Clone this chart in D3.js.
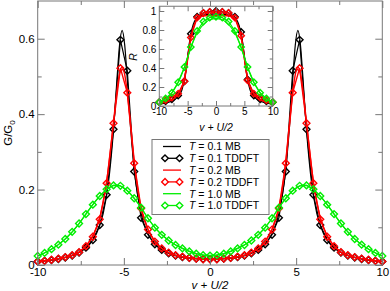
<!DOCTYPE html>
<html>
<head>
<meta charset="utf-8">
<script src="https://cdn.jsdelivr.net/npm/d3@7"></script>
<style>
body { margin: 0; background: #fff; }
text { font-family: "Liberation Sans", Arial, Helvetica, sans-serif; }
</style>
</head>
<body>
<div id="chart"></div>
<script>
// ---- main panel data (G/G0) ----
var tdX = [-10,-9.6,-9.2,-8.8,-8.4,-8,-7.6,-7.2,-6.8,-6.4,-6,-5.6,-5.2,-4.8,-4.4,-4,-3.6,-3.2,-2.8,-2.4,-2,-1.6,-1.2,-0.8,-0.4,
            0,0.4,0.8,1.2,1.6,2,2.4,2.8,3.2,3.6,4,4.4,4.8,5.2,5.6,6,6.4,6.8,7.2,7.6,8,8.4,8.8,9.2,9.6,10];
var tdT01 = [0.0095,0.011,0.013,0.016,0.020,0.025,0.033,0.046,0.066,0.106,0.186,0.360,0.597,0.515,0.248,0.125,0.080,0.055,0.040,0.031,0.025,0.021,0.019,0.017,0.016,
             0.016,0.016,0.017,0.019,0.021,0.025,0.031,0.040,0.055,0.080,0.125,0.248,0.515,0.597,0.360,0.186,0.106,0.066,0.046,0.033,0.025,0.020,0.016,0.013,0.011,0.0095];
var tdT02 = [0.009,0.011,0.014,0.017,0.021,0.026,0.034,0.050,0.075,0.121,0.217,0.376,0.522,0.457,0.270,0.150,0.094,0.062,0.044,0.033,0.026,0.022,0.019,0.017,0.015,
             0.015,0.015,0.017,0.019,0.022,0.026,0.033,0.044,0.062,0.094,0.150,0.270,0.457,0.522,0.376,0.217,0.121,0.075,0.050,0.034,0.026,0.021,0.017,0.014,0.011,0.009];
var tdT10 = [0.024,0.032,0.042,0.054,0.069,0.088,0.110,0.135,0.160,0.183,0.201,0.211,0.210,0.197,0.177,0.152,0.124,0.099,0.080,0.065,0.053,0.044,0.036,0.030,0.026,
             0.025,0.026,0.030,0.036,0.044,0.053,0.065,0.080,0.099,0.124,0.152,0.177,0.197,0.210,0.211,0.201,0.183,0.160,0.135,0.110,0.088,0.069,0.054,0.042,0.032,0.024];

var mbX = [-10,-9.4,-8.8,-8.2,-7.6,-7,-6.6,-6.2,-5.9,-5.6,-5.4,-5.25,-5.1,-4.95,-4.8,-4.6,-4.3,-4,-3.6,-3.2,-2.4,-1.6,-0.8,
           0,0.8,1.6,2.4,3.2,3.6,4,4.3,4.6,4.8,4.95,5.1,5.25,5.4,5.6,5.9,6.2,6.6,7,7.6,8.2,8.8,9.4,10];
var mbT01 = [0.0095,0.012,0.016,0.022,0.033,0.054,0.082,0.136,0.216,0.358,0.492,0.583,0.622,0.583,0.492,0.358,0.216,0.137,0.083,0.056,0.031,0.021,0.017,
             0.016,0.017,0.021,0.031,0.056,0.083,0.137,0.216,0.358,0.492,0.583,0.622,0.583,0.492,0.358,0.216,0.136,0.082,0.054,0.033,0.022,0.016,0.012,0.0095];
var mbT02 = [0.009,0.0125,0.017,0.023,0.034,0.062,0.098,0.165,0.255,0.378,0.462,0.508,0.525,0.505,0.457,0.370,0.235,0.150,0.094,0.062,0.033,0.022,0.017,
             0.015,0.017,0.022,0.033,0.062,0.094,0.150,0.235,0.370,0.457,0.505,0.525,0.508,0.462,0.378,0.255,0.165,0.098,0.062,0.034,0.023,0.017,0.0125,0.009];
var mbT10 = [0.024,0.037,0.054,0.078,0.110,0.148,0.172,0.192,0.204,0.211,0.212,0.210,0.207,0.203,0.197,0.188,0.171,0.152,0.124,0.099,0.065,0.044,0.030,
             0.025,0.030,0.044,0.065,0.099,0.124,0.152,0.171,0.188,0.197,0.203,0.207,0.210,0.212,0.211,0.204,0.192,0.172,0.148,0.110,0.078,0.054,0.037,0.024];

// ---- inset data (R) ----
var inTdX = [-10,-8.89,-7.78,-6.67,-5.56,-4.44,-3.33,-2.22,-1.11,0,1.11,2.22,3.33,4.44,5.56,6.67,7.78,8.89,10];
var inTdT01 = [0.04,0.05,0.07,0.11,0.26,0.76,0.94,0.98,0.99,1.0,0.99,0.98,0.94,0.78,0.28,0.11,0.07,0.05,0.04];
var inTdT02 = [0.04,0.06,0.09,0.13,0.26,0.72,0.93,0.98,0.99,0.99,0.99,0.98,0.93,0.74,0.27,0.13,0.09,0.06,0.04];
var inTdT10 = [0.04,0.08,0.14,0.25,0.41,0.62,0.79,0.89,0.93,0.94,0.93,0.89,0.79,0.62,0.41,0.25,0.14,0.08,0.04];

var inMbX = [-10,-9,-8,-7,-6.5,-6,-5.5,-5,-4.5,-4,-3.5,-3,-2,-1,0,1,2,3,3.5,4,4.5,5,5.5,6,6.5,7,8,9,10];
var inMbT01 = [0.02,0.03,0.045,0.08,0.11,0.17,0.30,0.52,0.74,0.86,0.92,0.94,0.96,0.965,0.97,0.965,0.96,0.94,0.92,0.86,0.74,0.52,0.30,0.17,0.11,0.08,0.045,0.03,0.02];
var inMbT02 = [0.025,0.04,0.06,0.10,0.14,0.20,0.31,0.50,0.70,0.83,0.90,0.93,0.95,0.95,0.95,0.95,0.95,0.93,0.90,0.83,0.70,0.50,0.31,0.20,0.14,0.10,0.06,0.04,0.025];
var inMbT10 = [0.03,0.07,0.12,0.21,0.27,0.34,0.42,0.51,0.60,0.68,0.75,0.80,0.87,0.91,0.92,0.91,0.87,0.80,0.75,0.68,0.60,0.51,0.42,0.34,0.27,0.21,0.12,0.07,0.03];

// ---- ticks and legend ----
var xMajor = [-10,-5,0,5,10], xMinor = [-7.5,-2.5,2.5,7.5];
var yMajor = [0,0.2,0.4,0.6], yMinor = [0.1,0.3,0.5];
var inYMajor = [0,0.2,0.4,0.6,0.8,1], inYMinor = [0.1,0.3,0.5,0.7,0.9];
var temps = ["0.1","0.1","0.2","0.2","1.0","1.0"];
var methods = ["MB","TDDFT","MB","TDDFT","MB","TDDFT"];
var colors = ["#000000","#000000","#ff0000","#ff0000","#00ee00","#00ee00"];

var frameColor = "#777";

var svg = d3.select("#chart").append("svg")
    .attr("width", 390)
    .attr("height", 291);

// draws a framed panel with inward ticks on all four sides
function panel(g, x, y, opt) {
  var x0 = x.range()[0], x1 = x.range()[1], y0 = y.range()[0], y1 = y.range()[1];
  function strip(sel) { sel.select(".domain").remove(); sel.selectAll("line").attr("stroke", frameColor); }
  function labels(sel) { sel.selectAll("text").attr("fill", "#000").attr("font-size", opt.fs)
      .attr("font-family", "'Liberation Sans', Arial, sans-serif"); }
  var fmt = function(d) { return String(d); };

  g.append("g").attr("transform", "translate(0," + y0 + ")")
      .call(d3.axisBottom(x).tickValues(opt.xMajor).tickSize(-opt.major).tickPadding(opt.padX).tickFormat(fmt))
      .call(strip).call(labels);
  g.append("g").attr("transform", "translate(0," + y0 + ")")
      .call(d3.axisBottom(x).tickValues(opt.xMinor).tickSize(-opt.minor).tickFormat(""))
      .call(strip);
  g.append("g").attr("transform", "translate(0," + y1 + ")")
      .call(d3.axisTop(x).tickValues(opt.xMajor).tickSize(-opt.major).tickFormat(""))
      .call(strip);
  g.append("g").attr("transform", "translate(0," + y1 + ")")
      .call(d3.axisTop(x).tickValues(opt.xMinor).tickSize(-opt.minor).tickFormat(""))
      .call(strip);
  g.append("g").attr("transform", "translate(" + x0 + ",0)")
      .call(d3.axisLeft(y).tickValues(opt.yMajor).tickSize(-opt.major).tickPadding(opt.padY).tickFormat(fmt))
      .call(strip).call(labels);
  g.append("g").attr("transform", "translate(" + x0 + ",0)")
      .call(d3.axisLeft(y).tickValues(opt.yMinor).tickSize(-opt.minor).tickFormat(""))
      .call(strip);
  g.append("g").attr("transform", "translate(" + x1 + ",0)")
      .call(d3.axisRight(y).tickValues(opt.yMajor).tickSize(-opt.major).tickFormat(""))
      .call(strip);
  g.append("g").attr("transform", "translate(" + x1 + ",0)")
      .call(d3.axisRight(y).tickValues(opt.yMinor).tickSize(-opt.minor).tickFormat(""))
      .call(strip);
  g.append("rect")
      .attr("x", x0).attr("y", y1)
      .attr("width", x1 - x0).attr("height", y0 - y1)
      .attr("fill", "none").attr("stroke", frameColor).attr("stroke-width", 1);
}

// draws one MB line and one TDDFT diamond series
function series(g, x, y, xs, ys, color, lw, isLine, symSize) {
  var pts = xs.map(function(v, i) { return [v, ys[i]]; });
  if (isLine) {
    g.append("path")
        .datum(pts)
        .attr("fill", "none")
        .attr("stroke", color)
        .attr("stroke-width", lw)
        .attr("d", d3.line().curve(d3.curveMonotoneX)
            .x(function(d) { return x(d[0]); })
            .y(function(d) { return y(d[1]); }));
  } else {
    g.append("path")
        .datum(pts)
        .attr("fill", "none")
        .attr("stroke", color)
        .attr("stroke-width", lw)
        .attr("d", d3.line()
            .x(function(d) { return x(d[0]); })
            .y(function(d) { return y(d[1]); }));
    g.selectAll(null).data(pts).enter().append("path")
        .attr("d", d3.symbol(d3.symbolDiamond2, symSize))
        .attr("transform", function(d) { return "translate(" + x(d[0]) + "," + y(d[1]) + ")"; })
        .attr("fill", "none")
        .attr("stroke", color)
        .attr("stroke-width", 1.4);
  }
}

// ---- main panel ----
var x = d3.scaleLinear().domain([-10, 10]).range([37.7, 382.3]);
var y = d3.scaleLinear().domain([0, 0.7]).range([265, 1]);

var main = svg.append("g");
var curves = main.append("g");
series(curves, x, y, mbX, mbT01, colors[0], 1.2, true);
series(curves, x, y, tdX, tdT01, colors[1], 1.2, false, 30);
series(curves, x, y, mbX, mbT02, colors[2], 1.4, true);
series(curves, x, y, tdX, tdT02, colors[3], 1.4, false, 30);
series(curves, x, y, mbX, mbT10, colors[4], 1.2, true);
series(curves, x, y, tdX, tdT10, colors[5], 1.2, false, 30);

panel(main, x, y, {xMajor: xMajor, xMinor: xMinor, yMajor: yMajor, yMinor: yMinor,
  major: 7, minor: 4, padX: 3, padY: 3, fs: 11.5});

main.append("text")
    .attr("x", 210).attr("y", 288.5)
    .attr("text-anchor", "middle")
    .attr("font-size", 11.5)
    .attr("font-style", "italic")
    .text("v + U/2");

var gl = main.append("text")
    .attr("transform", "translate(12,133) rotate(-90)")
    .attr("text-anchor", "middle")
    .attr("font-size", 11.5);
gl.append("tspan").text("G/G");
gl.append("tspan").attr("font-size", 8).attr("dy", 3).text("0");

// ---- legend ----
var leg = main.append("g");
leg.append("rect")
    .attr("x", 152).attr("y", 139.5)
    .attr("width", 117).attr("height", 75)
    .attr("fill", "#fff").attr("stroke", frameColor).attr("stroke-width", 1);
temps.forEach(function(t, i) {
  var cy = 146.5 + i * 11.8;
  leg.append("line")
      .attr("x1", 163).attr("x2", 181).attr("y1", cy).attr("y2", cy)
      .attr("stroke", colors[i]).attr("stroke-width", 1.3);
  if (methods[i] === "TDDFT") {
    [165, 179.5].forEach(function(sx) {
      leg.append("path")
          .attr("d", d3.symbol(d3.symbolDiamond2, 28))
          .attr("transform", "translate(" + sx + "," + cy + ")")
          .attr("fill", "#fff").attr("stroke", colors[i]).attr("stroke-width", 1.4);
    });
  }
  var tx = leg.append("text")
      .attr("x", 189).attr("y", cy + 3.8)
      .attr("font-size", 10.5);
  tx.append("tspan").attr("font-style", "italic").text("T");
  tx.append("tspan").text(" = " + t + " " + methods[i]);
});

// ---- inset ----
var ix = d3.scaleLinear().domain([-10, 10]).range([159.3, 272.7]);
var iy = d3.scaleLinear().domain([0, 1.05]).range([106, 6.25]);

var inset = svg.append("g");
inset.append("rect")
    .attr("x", 159.3).attr("y", 6.25)
    .attr("width", 113.4).attr("height", 99.75)
    .attr("fill", "#fff");
var icurves = inset.append("g");
series(icurves, ix, iy, inMbX, inMbT01, colors[0], 1.2, true);
series(icurves, ix, iy, inTdX, inTdT01, colors[1], 1.2, false, 26);
series(icurves, ix, iy, inMbX, inMbT02, colors[2], 1.4, true);
series(icurves, ix, iy, inTdX, inTdT02, colors[3], 1.4, false, 26);
series(icurves, ix, iy, inMbX, inMbT10, colors[4], 1.2, true);
series(icurves, ix, iy, inTdX, inTdT10, colors[5], 1.2, false, 26);

panel(inset, ix, iy, {xMajor: xMajor, xMinor: xMinor, yMajor: inYMajor, yMinor: inYMinor,
  major: 5, minor: 3, padX: 2, padY: 3, fs: 10});

inset.append("text")
    .attr("x", 216).attr("y", 131)
    .attr("text-anchor", "middle")
    .attr("font-size", 10.5)
    .attr("font-style", "italic")
    .text("v + U/2");

inset.append("text")
    .attr("transform", "translate(137,57) rotate(-90)")
    .attr("text-anchor", "middle")
    .attr("font-size", 10.5)
    .attr("font-style", "italic")
    .text("R");
</script>
</body>
</html>
